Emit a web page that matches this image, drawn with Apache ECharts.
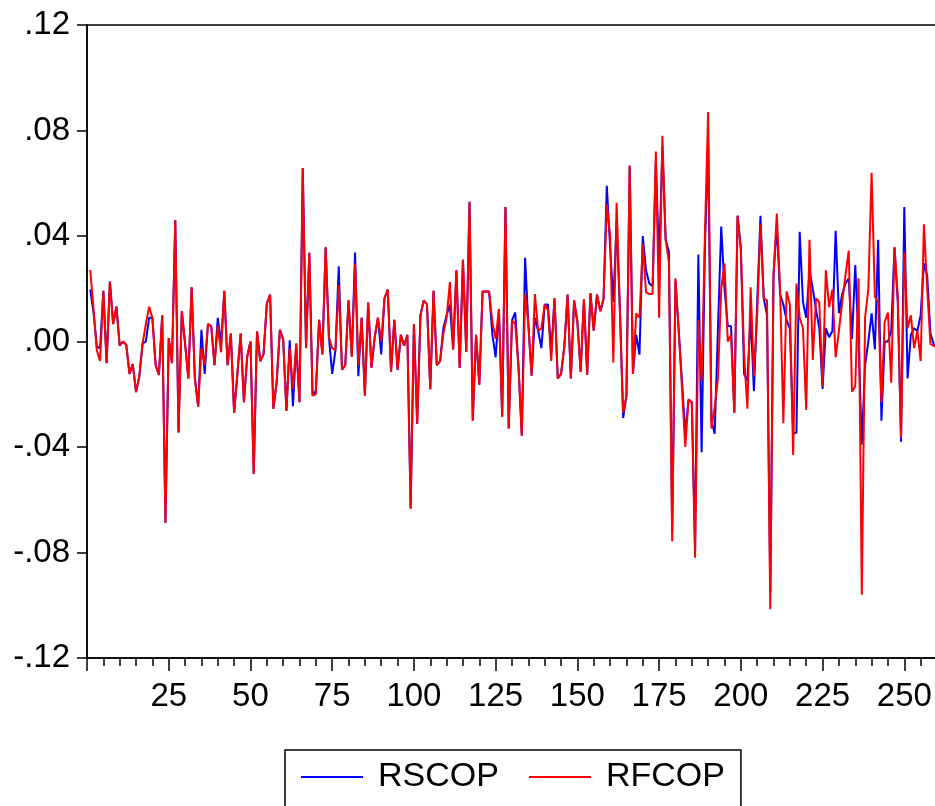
<!DOCTYPE html>
<html>
<head>
<meta charset="utf-8">
<title>RSCOP / RFCOP</title>
<script src="https://cdn.jsdelivr.net/npm/echarts@6/dist/echarts.min.js"></script>
<style>
  html, body { margin: 0; padding: 0; background: #fff; }
  #chart { width: 935px; height: 806px; }
</style>
</head>
<body>
<div id="chart"></div>
<script>
// series names
var seriesNames = ['RSCOP', 'RFCOP'];

// RFCOP, obs 1..260
var rfcop = [
  0.0271, 0.0123, -0.0033, -0.0074, 0.0192, -0.0082, 0.0227, 0.0066, 0.0132, -0.0016,
  0.0000, -0.0012, -0.0123, -0.0086, -0.0192, -0.0132, -0.0008, 0.0066, 0.0132, 0.0090,
  -0.0090, -0.0127, 0.0099, -0.0687, 0.0013, -0.0082, 0.0461, -0.0345, 0.0115, -0.0008,
  -0.0140, 0.0206, -0.0140, -0.0247, -0.0025, -0.0090, 0.0066, 0.0058, -0.0090, 0.0060,
  -0.0041, 0.0192, -0.0090, 0.0030, -0.0271, -0.0123, 0.0030, -0.0230, -0.0058, 0.0000,
  -0.0502, 0.0038, -0.0074, -0.0049, 0.0143, 0.0178, -0.0255, -0.0156, 0.0044, 0.0008,
  -0.0263, -0.0025, -0.0180, -0.0008, -0.0230, 0.0658, -0.0025, 0.0336, -0.0205, -0.0200,
  0.0082, -0.0049, 0.0357, 0.0016, -0.0025, -0.0033, 0.0214, -0.0107, -0.0090, 0.0156,
  -0.0058, 0.0296, -0.0090, 0.0090, -0.0206, 0.0148, -0.0099, 0.0016, 0.0090, 0.0000,
  0.0164, 0.0197, -0.0115, 0.0082, -0.0107, 0.0025, -0.0016, 0.0025, -0.0633, 0.0066,
  -0.0313, 0.0100, 0.0156, 0.0141, -0.0181, 0.0192, -0.0090, -0.0074, 0.0030, 0.0090,
  0.0225, -0.0030, 0.0270, -0.0100, 0.0310, -0.0040, 0.0530, -0.0300, 0.0025, -0.0164,
  0.0190, 0.0190, 0.0190, 0.0074, 0.0010, 0.0123, -0.0285, 0.0510, -0.0330, 0.0080,
  0.0066, -0.0100, -0.0357, 0.0180, 0.0066, -0.0130, 0.0180, 0.0040, 0.0050, 0.0140,
  0.0120, -0.0074, 0.0164, -0.0140, -0.0123, -0.0020, 0.0178, -0.0140, 0.0156, 0.0074,
  -0.0115, 0.0160, -0.0127, 0.0184, 0.0041, 0.0178, 0.0115, 0.0160, 0.0520, 0.0400,
  -0.0080, 0.0526, 0.0120, -0.0270, -0.0206, 0.0666, -0.0123, 0.0107, 0.0090, 0.0370,
  0.0186, 0.0180, 0.0180, 0.0720, 0.0090, 0.0780, 0.0386, 0.0300, -0.0757, 0.0240,
  0.0040, -0.0180, -0.0400, -0.0220, -0.0230, -0.0820, 0.0080, -0.0150, 0.0400, 0.0870,
  -0.0330, -0.0250, -0.0140, 0.0200, 0.0296, 0.0000, 0.0025, -0.0270, 0.0477, 0.0350,
  -0.0050, -0.0255, 0.0206, -0.0132, 0.0100, 0.0444, 0.0164, 0.0156, -0.1015, 0.0250,
  0.0485, 0.0200, -0.0310, 0.0190, 0.0140, -0.0430, 0.0220, 0.0090, 0.0050, -0.0260,
  0.0386, -0.0070, 0.0164, 0.0148, -0.0170, 0.0270, 0.0130, 0.0197, -0.0060, 0.0040,
  0.0150, 0.0250, 0.0345, -0.0190, -0.0170, 0.0240, -0.0960, 0.0090, 0.0200, 0.0640,
  0.0170, 0.0150, -0.0230, 0.0074, 0.0110, -0.0156, 0.0357, 0.0170, -0.0365, 0.0337,
  0.0050, 0.0099, -0.0025, 0.0040, -0.0074, 0.0444, 0.0200, -0.0010, -0.0016, -0.0025
];

// RSCOP, obs 1..260
var rscop = [
  0.0197, 0.0110, -0.0020, -0.0025, 0.0192, -0.0082, 0.0227, 0.0066, 0.0132, -0.0016,
  0.0000, -0.0012, -0.0123, -0.0086, -0.0192, -0.0132, -0.0008, 0.0000, 0.0090, 0.0090,
  -0.0090, -0.0127, 0.0099, -0.0687, 0.0013, -0.0082, 0.0461, -0.0345, 0.0115, -0.0008,
  -0.0140, 0.0206, -0.0140, -0.0247, 0.0044, -0.0123, 0.0066, 0.0058, -0.0090, 0.0090,
  -0.0010, 0.0192, -0.0090, 0.0030, -0.0271, -0.0123, 0.0030, -0.0230, -0.0058, 0.0000,
  -0.0502, 0.0038, -0.0074, -0.0049, 0.0143, 0.0178, -0.0255, -0.0156, 0.0044, 0.0008,
  -0.0263, 0.0005, -0.0245, -0.0008, -0.0230, 0.0658, -0.0025, 0.0336, -0.0205, -0.0186,
  0.0082, -0.0049, 0.0357, 0.0016, -0.0123, -0.0033, 0.0285, -0.0107, -0.0090, 0.0156,
  -0.0058, 0.0337, -0.0132, 0.0090, -0.0206, 0.0148, -0.0099, 0.0016, 0.0090, -0.0049,
  0.0164, 0.0197, -0.0115, 0.0082, -0.0107, 0.0025, -0.0016, 0.0025, -0.0633, 0.0066,
  -0.0313, 0.0100, 0.0156, 0.0141, -0.0181, 0.0192, -0.0090, -0.0074, 0.0050, 0.0100,
  0.0140, -0.0030, 0.0270, -0.0100, 0.0310, -0.0040, 0.0530, -0.0300, 0.0025, -0.0164,
  0.0190, 0.0190, 0.0190, 0.0025, -0.0060, 0.0123, -0.0285, 0.0510, -0.0330, 0.0080,
  0.0110, -0.0100, -0.0357, 0.0317, 0.0066, -0.0130, 0.0090, 0.0040, -0.0025, 0.0140,
  0.0140, -0.0040, 0.0164, -0.0140, -0.0123, -0.0020, 0.0178, -0.0140, 0.0156, 0.0074,
  -0.0115, 0.0160, -0.0127, 0.0184, 0.0041, 0.0178, 0.0115, 0.0160, 0.0590, 0.0360,
  0.0150, 0.0450, 0.0120, -0.0290, -0.0206, 0.0666, -0.0123, 0.0025, -0.0050, 0.0400,
  0.0270, 0.0220, 0.0210, 0.0680, 0.0300, 0.0740, 0.0386, 0.0340, -0.0720, 0.0230,
  0.0040, -0.0150, -0.0350, -0.0220, -0.0230, -0.0780, 0.0330, -0.0420, 0.0350, 0.0750,
  -0.0300, -0.0350, 0.0050, 0.0436, 0.0200, 0.0060, 0.0058, -0.0270, 0.0477, 0.0354,
  -0.0123, -0.0150, 0.0100, -0.0188, 0.0150, 0.0477, 0.0164, 0.0100, -0.0950, 0.0255,
  0.0440, 0.0180, 0.0140, 0.0080, 0.0050, -0.0350, -0.0345, 0.0416, 0.0150, 0.0090,
  0.0270, 0.0200, 0.0120, 0.0050, -0.0180, 0.0050, 0.0016, 0.0040, 0.0420, 0.0107,
  0.0180, 0.0220, 0.0240, 0.0010, 0.0290, 0.0000, -0.0390, -0.0090, 0.0000, 0.0107,
  -0.0030, 0.0386, -0.0300, 0.0000, 0.0000, 0.0040, 0.0357, 0.0150, -0.0380, 0.0510,
  -0.0140, 0.0025, 0.0050, 0.0040, 0.0100, 0.0296, 0.0250, 0.0030, -0.0010, -0.0020
];

// axis ticks
var xLabelStep = 25;
var yTicks = [-0.12, -0.08, -0.04, 0.00, 0.04, 0.08, 0.12];

// [obs, value] pairs, obs counted from 1
function toPairs(arr) {
  var out = [];
  for (var i = 0; i < arr.length; i++) out.push([i + 1, arr[i]]);
  return out;
}

// .12 / -.04 style labels like EViews
function fmtY(v) {
  var s = Math.abs(v).toFixed(2).replace(/^0/, '');
  return (v < -1e-9 ? '-' : '') + s;
}

var myChart = echarts.init(document.getElementById('chart'), null, { renderer: 'canvas' });

var font = 'Liberation Sans, Arial, sans-serif';

myChart.setOption({
  animation: false,
  backgroundColor: '#fff',
  grid: {
    left: 87, right: -2, top: 25, bottom: 148,
    show: true, borderColor: '#000', borderWidth: 1.5,
    outerBoundsMode: 'none'
  },
  legend: {
    data: seriesNames,
    left: 285, top: 750,
    borderColor: '#000', borderWidth: 1.5,
    padding: [10, 16, 30, 16],
    icon: 'rect', itemWidth: 62, itemHeight: 2, itemGap: 30,
    textStyle: { fontFamily: font, fontSize: 34, color: '#000', padding: [0, 0, 0, 10] }
  },
  xAxis: {
    type: 'value', min: 0, max: 260, interval: xLabelStep,
    axisLine: { onZero: false, lineStyle: { color: '#000', width: 1.5 } },
    axisTick: { show: true, length: 13, lineStyle: { color: '#000', width: 1.5 } },
    minorTick: { show: true, splitNumber: 5, length: 8, lineStyle: { color: '#000', width: 1.5 } },
    splitLine: { show: false },
    minorSplitLine: { show: false },
    axisLabel: {
      fontFamily: font, fontSize: 33, color: '#000', margin: 22,
      formatter: function (v) { return (v > 0 && v % xLabelStep === 0) ? String(v) : ''; }
    }
  },
  yAxis: {
    type: 'value', min: yTicks[0], max: yTicks[yTicks.length - 1], interval: 0.04,
    axisLine: { lineStyle: { color: '#000', width: 1.5 } },
    axisTick: { show: true, length: 10, lineStyle: { color: '#000', width: 1.5 } },
    splitLine: { show: false },
    axisLabel: { fontFamily: font, fontSize: 33, color: '#000', margin: 17, formatter: fmtY }
  },
  series: [
    {
      name: 'RSCOP', type: 'line', data: toPairs(rscop),
      showSymbol: false, color: '#0000ff',
      lineStyle: { width: 2, color: '#0000ff' }
    },
    {
      name: 'RFCOP', type: 'line', data: toPairs(rfcop),
      showSymbol: false, color: '#ff0000',
      lineStyle: { width: 2, color: '#ff0000' }
    }
  ]
});

window.addEventListener('resize', function () {
  myChart.resize();
});
</script>
</body>
</html>
